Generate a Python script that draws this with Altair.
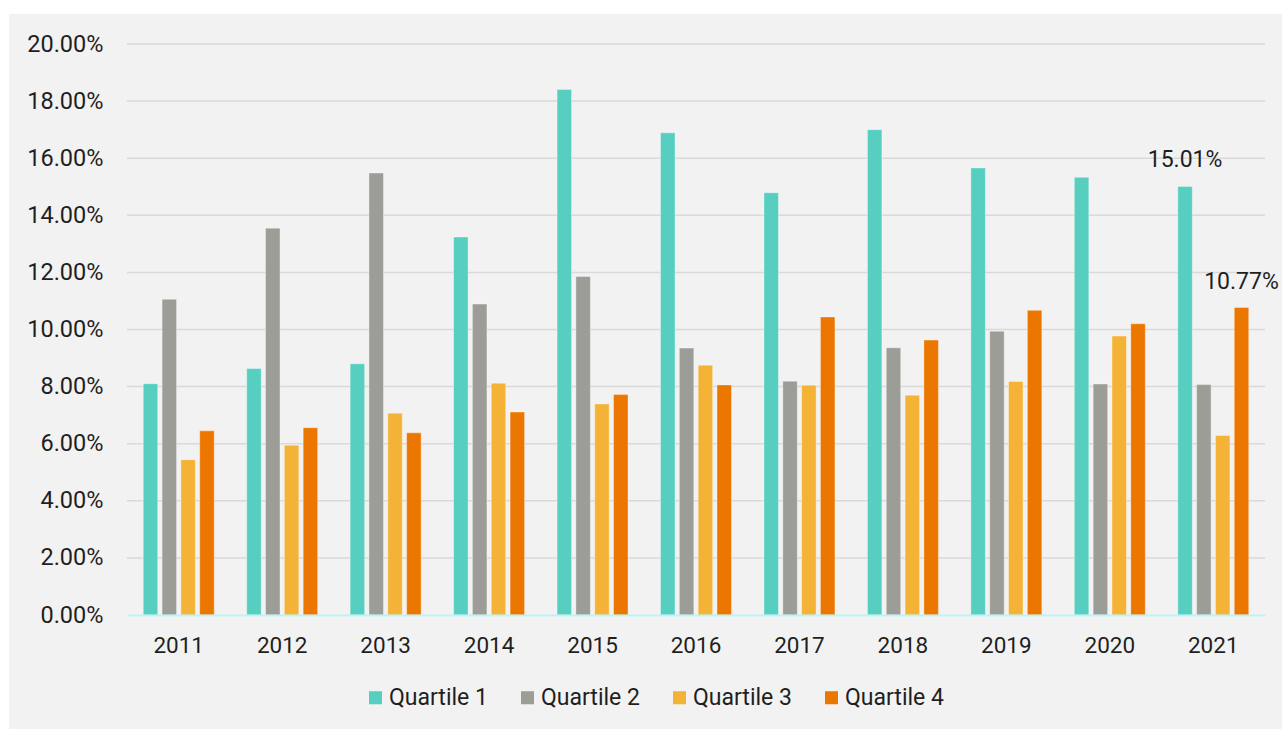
import altair as alt
import pandas as pd

years = ["2011", "2012", "2013", "2014", "2015", "2016",
         "2017", "2018", "2019", "2020", "2021"]
quartiles = ["Quartile 1", "Quartile 2", "Quartile 3", "Quartile 4"]

# Share per quartile and year, in percent
q1 = [8.10, 8.63, 8.80, 13.24, 18.41, 16.89, 14.79, 17.00, 15.66, 15.33, 15.01]
q2 = [11.06, 13.55, 15.48, 10.89, 11.86, 9.35, 8.19, 9.36, 9.94, 8.09, 8.07]
q3 = [5.44, 5.95, 7.07, 8.12, 7.39, 8.75, 8.05, 7.70, 8.18, 9.77, 6.29]
q4 = [6.45, 6.56, 6.38, 7.11, 7.72, 8.06, 10.44, 9.63, 10.67, 10.20, 10.77]

colors = ["#56cfc1", "#9d9d98", "#f4b336", "#ec7700"]
grid_values = [2, 4, 6, 8, 10, 12, 14, 16, 18, 20]
y_ticks = [0, 2, 4, 6, 8, 10, 12, 14, 16, 18, 20]

rows = []
for q, series in zip(quartiles, [q1, q2, q3, q4]):
    for yr, v in zip(years, series):
        rows.append({"Year": yr, "Quartile": q, "Value": v})
df = pd.DataFrame(rows)

# Only the final year's first and last quartile carry a value label
labels = df[(df["Year"] == "2021") & (df["Quartile"].isin(["Quartile 1", "Quartile 4"]))].copy()
labels["Label"] = labels["Value"].map(lambda v: f"{v:.2f}%")

FONT = "Roboto"
TEXT = "#1f1f1f"
W, H = 1138, 571

x_enc = alt.X("Year:N", sort=years, title=None,
              scale=alt.Scale(paddingInner=0.314, paddingOuter=0.157),
              axis=alt.Axis(labelAngle=0, ticks=False, labelPadding=19,
                            labelFontSize=22.5, labelColor=TEXT, labelFont=FONT,
                            domainColor="#bdf3f6", domainWidth=2, zindex=1))
xoff_enc = alt.XOffset("Quartile:N", sort=quartiles,
                       scale=alt.Scale(paddingInner=0.23, paddingOuter=0))
y_scale = alt.Scale(domain=[0, 20], nice=False)

panel = alt.Chart(pd.DataFrame({"k": [0]})).mark_rect(color="#f2f2f2").encode(
    x=alt.value(-118), x2=alt.value(1155), y=alt.value(-30), y2=alt.value(685)
)

grid = alt.Chart(pd.DataFrame({"g": grid_values})).mark_rule(
    color="#d9d9d9", strokeWidth=1.5
).encode(y=alt.Y("g:Q", scale=y_scale))

bars = alt.Chart(df).mark_bar(stroke="white", strokeWidth=0.8, strokeOpacity=0.45).encode(
    x=x_enc,
    xOffset=xoff_enc,
    y=alt.Y("Value:Q", scale=y_scale, title=None,
            axis=alt.Axis(values=y_ticks, grid=False, domain=False, ticks=False,
                          labelPadding=24, labelFontSize=23.5, labelColor=TEXT,
                          labelFont=FONT, zindex=1,
                          labelExpr="format(datum.value, '.2f') + '%'")),
    color=alt.Color("Quartile:N", sort=quartiles,
                    scale=alt.Scale(domain=quartiles, range=colors),
                    legend=alt.Legend(title=None, orient="none", direction="horizontal",
                                      legendX=237, legendY=642,
                                      symbolType="square", symbolSize=170,
                                      symbolStrokeWidth=0, labelOffset=2,
                                      columnPadding=28, labelFontSize=23,
                                      labelFont=FONT, labelColor=TEXT)),
)

text = alt.Chart(labels).mark_text(
    dy=-26, fontSize=23, font=FONT, color=TEXT, baseline="middle"
).encode(
    x=alt.X("Year:N", sort=years),
    xOffset=alt.XOffset("Quartile:N", sort=quartiles),
    y=alt.Y("Value:Q", scale=y_scale),
    text="Label:N",
)

chart = alt.layer(panel, grid, bars, text).properties(
    width=W, height=H,
    autosize=alt.AutoSizeParams(type="none"),
    padding={"left": 127, "top": 44, "right": 17, "bottom": 114},
    background="white",
).configure_view(stroke=None)

chart.save("out.html", embed_options={"renderer": "svg", "actions": False})
